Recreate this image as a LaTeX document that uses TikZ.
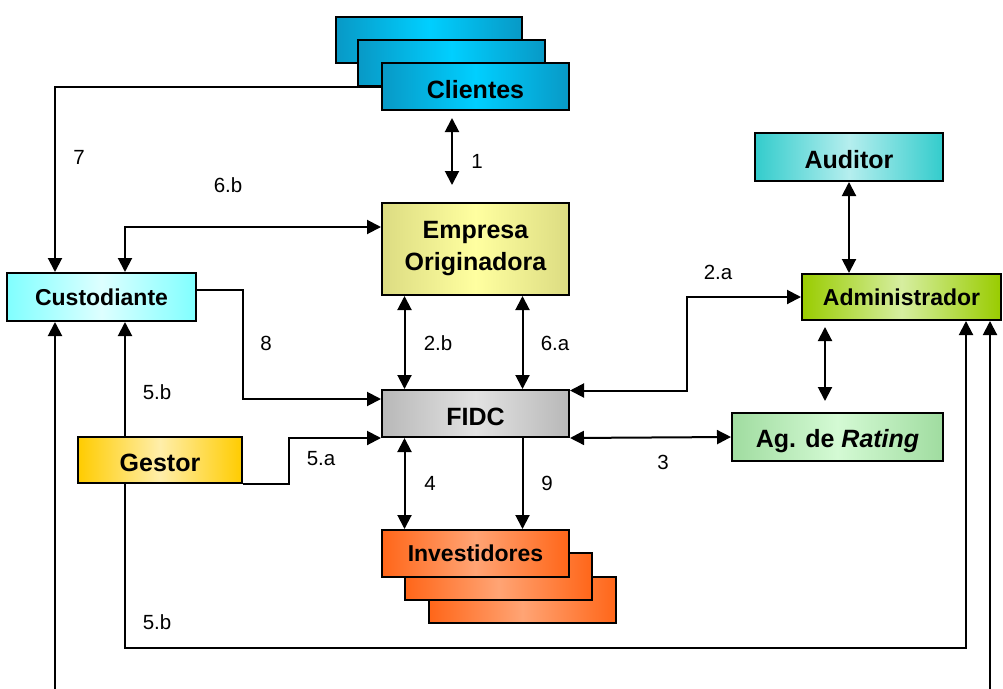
\documentclass[tikz,border=0pt]{standalone}
\usepackage{fontspec}
\setmainfont{Liberation Sans}
\usetikzlibrary{arrows.meta,backgrounds}

\tikzset{
  x=1pt, y=-1pt,
  box/.style={draw=black, line width=2pt, inner sep=0pt, anchor=center,
    font=\bfseries\fontsize{25}{28}\selectfont},
  smallfont/.style={font=\bfseries\fontsize{23}{26}\selectfont},
  low/.style={text height=#1, text depth=0pt},
  low/.default=23pt,
  tint/.style 2 args={left color=#1, right color=#1, middle color=#2},
  lbl/.style={inner sep=0pt, font=\fontsize{20.5}{24}\selectfont},
  conn/.style={line width=2pt},
  arr/.style={conn, -{Triangle[length=14pt,width=14pt]}},
  biarr/.style={conn, {Triangle[length=14pt,width=14pt]}-{Triangle[length=14pt,width=14pt]}},
}

\definecolor{cliD}{HTML}{0899C6}\definecolor{cliL}{HTML}{00CFFF}
\definecolor{cusD}{HTML}{80FFFF}\definecolor{cusL}{HTML}{DDFFFF}
\definecolor{empD}{HTML}{DCDC82}\definecolor{empL}{HTML}{FFFFA0}
\definecolor{fidD}{HTML}{B8B8B8}\definecolor{fidL}{HTML}{E2E2E2}
\definecolor{invD}{HTML}{FF6619}\definecolor{invL}{HTML}{FFA474}
\definecolor{audD}{HTML}{33CCCC}\definecolor{audL}{HTML}{B5EEEE}
\definecolor{admD}{HTML}{99CC00}\definecolor{admL}{HTML}{D6EEA0}
\definecolor{ratD}{HTML}{A0DCA0}\definecolor{ratL}{HTML}{D4FAD4}
\definecolor{gesD}{HTML}{FFCC00}\definecolor{gesL}{HTML}{FFEEAA}

\begin{document}
\begin{tikzpicture}
\useasboundingbox (0,0) rectangle (1003,688);

% clients (stack of three)
\node[box, tint={cliD}{cliL}, minimum width=186, minimum height=46] (cli3) at (429,40) {};
\node[box, tint={cliD}{cliL}, minimum width=187, minimum height=46] (cli2) at (451.5,63) {};
\node[box, low, tint={cliD}{cliL}, minimum width=187, minimum height=47] (cli) at (475.5,86.5) {Clientes};

% main parties
\node[box, low, tint={audD}{audL}, minimum width=188, minimum height=48] (aud) at (849,157) {Auditor};
\node[box, tint={empD}{empL}, minimum width=187, minimum height=92, align=center] (emp) at (475.5,249) {Empresa\\[4pt]Originadora};
\node[box, smallfont, tint={cusD}{cusL}, minimum width=189, minimum height=48] (cus) at (101.5,297) {Custodiante};
\node[box, smallfont, tint={admD}{admL}, minimum width=199, minimum height=46] (adm) at (901.5,297) {Administrador};
\node[box, low, tint={fidD}{fidL}, minimum width=187, minimum height=47] (fidc) at (475.5,413.5) {FIDC};
\node[box, low=21pt, tint={ratD}{ratL}, minimum width=211, minimum height=48] (rat) at (837.5,437) {Ag. de \textit{Rating}};
\node[box, low, tint={gesD}{gesL}, minimum width=164, minimum height=46] (ges) at (160,460) {Gestor};

% investors (stack of three)
\node[box, tint={invD}{invL}, minimum width=187, minimum height=46] (inv3) at (522.5,600) {};
\node[box, tint={invD}{invL}, minimum width=187, minimum height=47] (inv2) at (498.5,576.5) {};
\node[box, smallfont, tint={invD}{invL}, minimum width=187, minimum height=47] (inv) at (475.5,553.5) {Investidores};

% white page, and the client line that passes behind the client stack
\begin{scope}[on background layer]
  \fill[white] (0,0) rectangle (1003,688);
  \draw[arr] (cli.west) -| ([xshift=-46.5pt]cus.north);
\end{scope}

% connectors
\draw[biarr] ([xshift=-23.5pt,yshift=-7pt]cli.south) -- ([xshift=-23.5pt,yshift=17pt]emp.north);
\draw[biarr] ([xshift=23.5pt]cus.north) |- ([yshift=22pt]emp.west);
\draw[biarr] ([xshift=-71pt]emp.south) -- ([xshift=-71pt]fidc.north);
\draw[biarr] ([xshift=47pt]emp.south) -- ([xshift=47pt]fidc.north);
\draw[arr] ([yshift=7pt]cus.east) -- ++(46,0) |- ([yshift=14.5pt]fidc.west);
\draw[arr] ([xshift=-35pt]ges.north) -- ([xshift=23.5pt]cus.south);
\draw[arr] (ges.south east) -- ++(46,0) |- (fidc.south west);
\draw[biarr] ([xshift=-71pt]fidc.south) -- ([xshift=-71pt]inv.north);
\draw[arr] ([xshift=47pt]fidc.south) -- ([xshift=47pt]inv.north);
\draw[biarr] ([yshift=-1.5pt]fidc.north east) -- ++(117,0) |- (adm.west);
\draw[biarr] (fidc.south east) -- (rat.west);
\draw[biarr] (aud.south) -- (aud.south |- adm.north);
\draw[biarr] ([xshift=-76.5pt,yshift=-6pt]adm.south) -- ([xshift=-12.5pt,yshift=11pt]rat.north);
\draw[arr] ([xshift=-35pt]ges.south) -- ++(0,164) -| ([xshift=64.5pt]adm.south);
\begin{scope}
  \clip (0,0) rectangle (1003,688);
  \draw[biarr] ([xshift=-46.5pt]cus.south) -- ++(0,380) -| ([xshift=88.5pt]adm.south);
\end{scope}

% flow numbers
\node[lbl] (l7)  at (79,157)  {7};
\node[lbl] (l6b) at (228,185) {6.b};
\node[lbl] (l1)  at (477,161) {1};
\node[lbl] (l8)  at (266,343) {8};
\node[lbl] (l2b) at (438,343) {2.b};
\node[lbl] (l6a) at (555,343) {6.a};
\node[lbl] (l2a) at (718,272) {2.a};
\node[lbl] (l5b) at (157,392) {5.b};
\node[lbl] (l5a) at (321,459) {5.a};
\node[lbl] (l3)  at (663,462) {3};
\node[lbl] (l4)  at (430,483) {4};
\node[lbl] (l9)  at (547,483) {9};
\node[lbl] (l5c) at (157,622) {5.b};
\end{tikzpicture}
\end{document}
